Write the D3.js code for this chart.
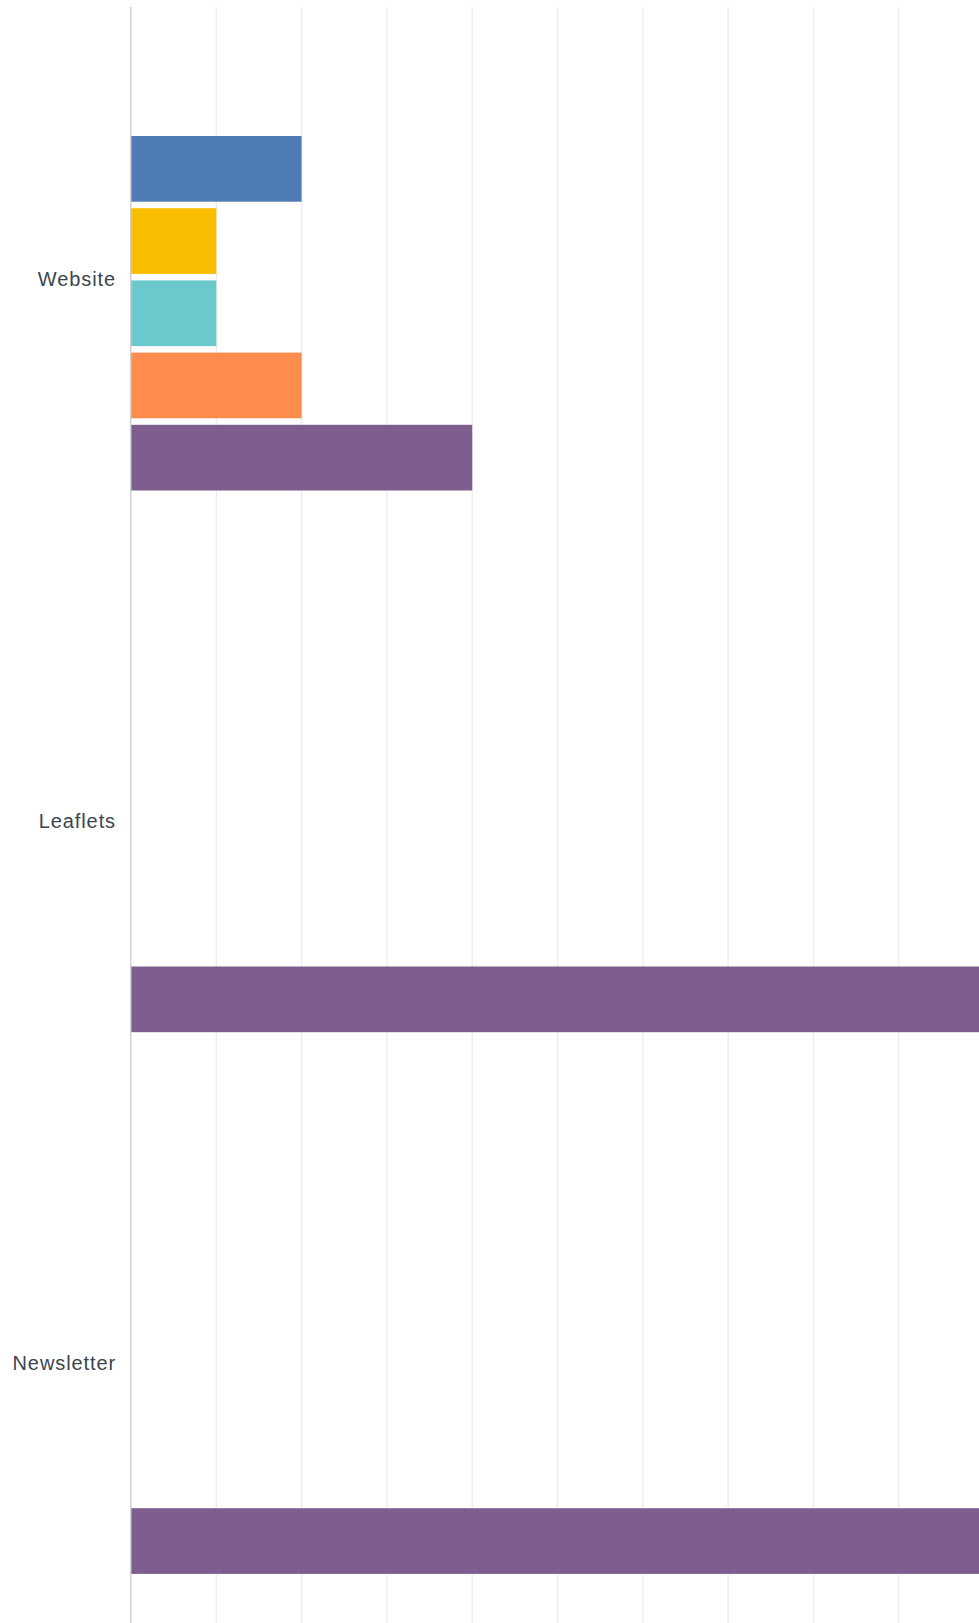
<!DOCTYPE html>
<html>
<head>
<meta charset="utf-8">
<script src="https://cdn.jsdelivr.net/npm/d3@7"></script>
<style>
  html, body { margin: 0; padding: 0; background: #fff; overflow: hidden; }
  svg { display: block; }
</style>
</head>
<body>
<svg id="chart"></svg>
<script>
// categories (rows) and the five answer series
const categories = ['Website', 'Leaflets', 'Newsletter']
const seriesKeys = ['s1', 's2', 's3', 's4', 's5']
const seriesColors = ['#507cb6', '#f9be00', '#6bc8cd', '#ff8b4f', '#7d5e8f']

// values per series, one entry per category (0 = no bar)
const s1Values = [2, 0, 0]
const s2Values = [1, 0, 0]
const s3Values = [1, 0, 0]
const s4Values = [2, 0, 0]
const s5Values = [4, 12, 12]

const xTicks = d3.range(0, 15)

const seriesValues = [s1Values, s2Values, s3Values, s4Values, s5Values]

const width = 979
const height = 1623
const margin = {left: 131, top: 7}

const svg = d3.select('#chart')
  .attr('width', width)
  .attr('height', height)

const x = d3.scaleLinear()
  .domain([0, 14])
  .range([margin.left, margin.left + 14 * 85.3])

const y0 = d3.scaleBand()
  .domain(categories)
  .range([9, 9 + 3 * 541.7])

const y1 = d3.scaleBand()
  .domain(seriesKeys)
  .range([127, 481.5])
  .paddingInner(0.09)
  .paddingOuter(0)

// grid lines
svg.append('g')
  .attr('class', 'grid')
  .selectAll('line')
  .data(xTicks.slice(1))
  .join('line')
  .attr('x1', d => x(d))
  .attr('x2', d => x(d))
  .attr('y1', margin.top)
  .attr('y2', height + 50)
  .attr('stroke', '#ececec')
  .attr('stroke-width', 1.3)

// bars
const rows = categories.map((c, i) => ({
  category: c,
  values: seriesKeys.map((k, j) => ({key: k, value: seriesValues[j][i], color: seriesColors[j]}))
}))

svg.append('g')
  .selectAll('g')
  .data(rows)
  .join('g')
  .attr('transform', d => `translate(0, ${y0(d.category)})`)
  .selectAll('rect')
  .data(d => d.values.filter(v => v.value > 0))
  .join('rect')
  .attr('x', x(0))
  .attr('y', d => y1(d.key))
  .attr('width', d => x(d.value) - x(0))
  .attr('height', y1.bandwidth())
  .attr('fill', d => d.color)

// category axis
const axisY = d3.axisLeft(y0).tickSize(0).tickPadding(15)
const gy = svg.append('g')
  .attr('transform', `translate(${x(0)}, 0)`)
  .call(axisY)
gy.select('.domain').remove()
gy.selectAll('.tick text')
  .attr('fill', '#3a4550')
  .style('font-family', '"Liberation Sans", Arial, sans-serif')
  .style('font-size', '20px')
  .style('letter-spacing', '0.9px')

// axis line
svg.append('line')
  .attr('x1', x(0) - 0.3)
  .attr('x2', x(0) - 0.3)
  .attr('y1', margin.top)
  .attr('y2', height + 50)
  .attr('stroke', '#d0d0d0')
  .attr('stroke-width', 1.5)
</script>
</body>
</html>
